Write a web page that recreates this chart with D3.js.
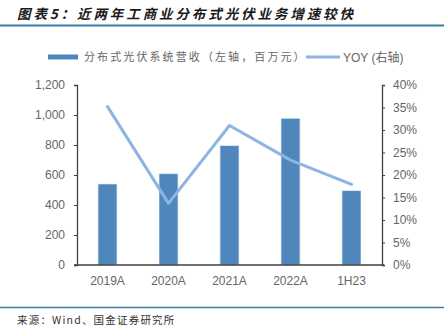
<!DOCTYPE html>
<html><head><meta charset="utf-8">
<script src="https://cdn.jsdelivr.net/npm/d3@7"></script>
<style>
body{margin:0;background:#fff;}
svg{display:block;font-family:"Liberation Sans",Arial,"Noto Sans CJK SC",sans-serif;}
</style></head>
<body>
<svg id="c" width="444" height="326"></svg>
<script>
const categories = ["2019A","2020A","2021A","2022A","1H23"];
const revenue = [540, 608, 795, 978, 495];
const yoy = [0.352, 0.137, 0.31, 0.233, 0.179];
const leftTicks = [0,200,400,600,800,1000,1200];
const rightTicks = [0,0.05,0.1,0.15,0.2,0.25,0.3,0.35,0.4];
const titleText = "图表5：近两年工商业分布式光伏业务增速较快";
const legendBar = "分布式光伏系统营收（左轴，百万元）";
const legendLine = "YOY (右轴)";
const sourceText = "来源：Wind、国金证券研究所";

const svg = d3.select("#c");
const cjk = '"Noto Sans CJK SC",sans-serif';
const L = 77, R = 382, T = 85, B = 265;
const x = d3.scaleBand().domain(categories).range([L, R]).paddingInner(0.69).paddingOuter(0.345);
const yL = d3.scaleLinear().domain([0,1200]).range([B,T]);
const yR = d3.scaleLinear().domain([0,0.4]).range([B,T]);

// title
svg.append("text").attr("x",17).attr("y",19).attr("font-family",cjk)
  .attr("font-size",13.5).attr("font-weight","bold").attr("font-style","italic")
  .attr("letter-spacing",2.9).attr("fill","#1a1a1a").text(titleText);
svg.append("line").attr("x1",0).attr("x2",444).attr("y1",25.5).attr("y2",25.5)
  .attr("stroke","#3d7da8").attr("stroke-width",2);

// legend
svg.append("rect").attr("x",48).attr("y",54.5).attr("width",30).attr("height",5).attr("fill","#4f86bc");
svg.append("text").attr("x",84).attr("y",61).attr("font-family",cjk).attr("font-size",11)
  .attr("letter-spacing",2.1).attr("fill","#666").text(legendBar);
svg.append("line").attr("x1",306).attr("x2",340).attr("y1",57).attr("y2",57)
  .attr("stroke","#8db4e2").attr("stroke-width",3);
svg.append("text").attr("x",343).attr("y",61.5).attr("font-size",12)
  .attr("fill","#666").text(legendLine);

// bars
svg.append("g").selectAll("rect").data(categories).join("rect")
  .attr("x", d=>x(d)).attr("width", x.bandwidth())
  .attr("y", (d,i)=>yL(revenue[i])).attr("height",(d,i)=>B-yL(revenue[i]))
  .attr("fill","#4f86bc").attr("stroke","#dce8f4").attr("stroke-width",0.6);

// line
const line = d3.line().x((d,i)=>x(categories[i])+x.bandwidth()/2).y(d=>yR(d));
svg.append("path").datum(yoy).attr("d",line).attr("fill","none")
  .attr("stroke","#8db4e2").attr("stroke-width",3).attr("stroke-linejoin","round").attr("stroke-linecap","round");

// axes
const axL = svg.append("g").attr("transform",`translate(${L},0)`)
  .call(d3.axisLeft(yL).tickValues(leftTicks).tickFormat(d3.format(",")).tickSize(3).tickPadding(9));
const axR = svg.append("g").attr("transform",`translate(${R},0)`)
  .call(d3.axisRight(yR).tickValues(rightTicks).tickFormat(d3.format(".0%")).tickSize(3).tickPadding(8));
const axB = svg.append("g").attr("transform",`translate(0,${B})`)
  .call(d3.axisBottom(x).tickSize(0).tickPadding(11));
axB.select(".domain").attr("d",`M${L-3},0H${R+2}`);
[axL,axR,axB].forEach(a=>{
  a.select(".domain").attr("stroke","#404040").attr("stroke-width",1.3);
  a.selectAll(".tick line").attr("stroke","#404040");
  a.selectAll("text").attr("font-size",12).attr("fill","#666").attr("font-family",'"Liberation Sans",Arial,sans-serif');
});

// footer
svg.append("line").attr("x1",0).attr("x2",444).attr("y1",307.5).attr("y2",307.5)
  .attr("stroke","#3d7da8").attr("stroke-width",1.5);
svg.append("text").attr("x",17).attr("y",323.5).attr("font-family",cjk).attr("font-size",10.5)
  .attr("letter-spacing",1.2).attr("fill","#333").text(sourceText);
</script>
</body></html>
